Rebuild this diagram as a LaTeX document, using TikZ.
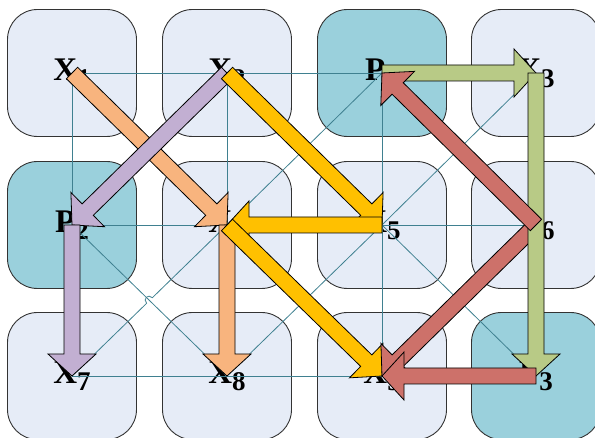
\documentclass[tikz,border=0pt]{standalone}
\usepackage{fontspec}
\setmainfont{Liberation Serif}
\usetikzlibrary{calc}
\definecolor{cellblue}{HTML}{E6ECF7}
\definecolor{cellteal}{HTML}{9AD0DC}
\definecolor{meshline}{HTML}{3F8090}
\definecolor{flowor}{HTML}{F8B47E}
\definecolor{flowpu}{HTML}{C2AFD2}
\definecolor{flowye}{HTML}{FFC000}
\definecolor{flowgr}{HTML}{B8CA86}
\definecolor{flowre}{HTML}{CD716A}
\newcommand{\nodelabel}[2]{#1\raisebox{-7pt}{\fontsize{27}{27}\selectfont #2}}
\newcommand{\blockarrow}[3]{%
  \coordinate (ba) at (#2.center);
  \coordinate (bb) at (#3.center);
  \coordinate (bc) at ($(bb)!22pt!(ba)$);
  \draw[flow, fill=#1] ($(ba)!8pt!90:(bb)$) -- ($(bc)!8pt!90:(bb)$)
    -- ($(bc)!24pt!90:(bb)$) -- (bb) -- ($(bc)!24pt!-90:(bb)$)
    -- ($(bc)!8pt!-90:(bb)$) -- ($(ba)!8pt!-90:(bb)$) -- cycle;
}

\begin{document}
\begin{tikzpicture}[x=1pt, y=-1pt,
  cell/.style={draw=black!80, line width=0.9pt, rounded corners=30pt,
    minimum width=129pt, minimum height=127pt, inner sep=0pt, fill=cellblue,
    font=\bfseries\fontsize{33}{33}\selectfont},
  pcell/.style={cell, fill=cellteal},
  mesh/.style={draw=meshline, line width=0.8pt},
  flow/.style={draw=black, line width=0.8pt, line join=miter}]
  \useasboundingbox (0,0) rectangle (595,438);
  \clip (0,0) rectangle (595,438);
  % Cells
  \node[cell]  (x1) at (72,73)   {\nodelabel{X}{1}};
  \node[cell]  (x2) at (227,73)  {\nodelabel{X}{2}};
  \node[pcell] (p1) at (382,73)  {\nodelabel{P}{1}};
  \node[cell]  (x3) at (536,73)  {\nodelabel{X}{3}};
  \node[pcell] (p2) at (72,225)  {\nodelabel{P}{2}};
  \node[cell]  (x4) at (227,225) {\nodelabel{X}{4}};
  \node[cell]  (x5) at (382,225) {\nodelabel{X}{5}};
  \node[cell]  (x6) at (536,225) {\nodelabel{X}{6}};
  \node[cell]  (x7) at (72,376)  {\nodelabel{X}{7}};
  \node[cell]  (x8) at (227,376) {\nodelabel{X}{8}};
  \node[cell]  (x9) at (382,376) {\nodelabel{X}{9}};
  \node[pcell] (p3) at (536,376) {\nodelabel{P}{3}};
  % Mesh
  \foreach \a/\b in {x1/x3, p2/x6, x7/p3, x1/x7, x2/x8, p1/x9, x3/p3,
                     x1/x4, x2/p2, x2/x5, x4/p1, p1/x6, x5/x3,
                     p2/x8, x4/x9, x8/x5, x5/p3, x6/x9}
    \draw[mesh] (\a.center) -- (\b.center);
  \coordinate (hm) at ($(x7.center)!0.5!(x4.center)$);
  \coordinate (h1) at ($(hm)!4pt!(x7.center)$);
  \coordinate (h2) at ($(hm)!4pt!(x4.center)$);
  \draw[mesh] (x7.center) -- (h1) .. controls ($(h1)!6pt!90:(hm)$)
    and ($(h2)!6pt!-90:(hm)$) .. (h2) -- (x4.center);
  % Flows
  \blockarrow{flowor}{x1}{x4}
  \blockarrow{flowor}{x4}{x8}
  \blockarrow{flowpu}{x2}{p2}
  \blockarrow{flowpu}{p2}{x7}
  \blockarrow{flowye}{x2}{x5}
  \blockarrow{flowye}{x5}{x4}
  \blockarrow{flowye}{x4}{x9}
  \blockarrow{flowre}{x6}{x9}
  \blockarrow{flowgr}{p1}{x3}
  \blockarrow{flowgr}{x3}{p3}
  \blockarrow{flowre}{x6}{p1}
  \blockarrow{flowre}{p3}{x9}
\end{tikzpicture}
\end{document}
